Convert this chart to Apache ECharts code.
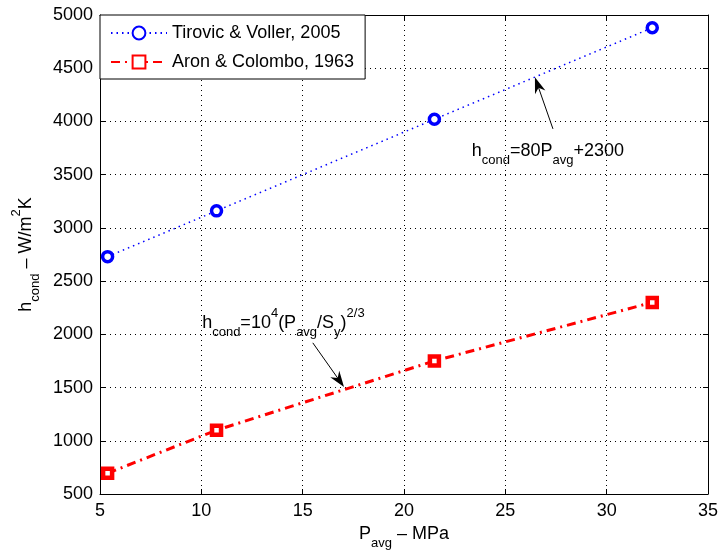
<!DOCTYPE html>
<html>

<head>
    <meta charset="utf-8" />
    <script src="https://cdn.jsdelivr.net/npm/echarts@6/dist/echarts.min.js"></script>
    <style>
        body { margin: 0; background: #fff; }
    </style>
</head>

<body>
    <div id="main" style="width: 720px;height: 555px;"></div>

    <script type="text/javascript">
        // pressure values, MPa
        var pAvg = [5.375, 10.75, 21.5, 32.25];
        // h_cond, W/m^2K
        var tirovic = [2730, 3160, 4020, 4880];
        var aron = [695, 1100, 1750, 2300];

        var xTicks = { min: 5, max: 35, interval: 5 };
        var yTicks = { min: 500, max: 5000, interval: 500 };

        // annotation arrows: [tailX, tailY, tipX, tipY] in data coords
        var arrows = [
            [27.35, 3930, 26.46, 4415],
            [15.5, 1920, 17.04, 1505]
        ];
        var blueLabel = [27.1, 3725];
        var redLabel = [14.05, 2110];

        var FONT = '"Liberation Sans", Arial, Helvetica, sans-serif';

        var richStyles = {
            m: { fontSize: 18, lineHeight: 32, fontFamily: FONT, color: '#000' },
            sub: { fontSize: 13, lineHeight: 13, verticalAlign: 'bottom', fontFamily: FONT, color: '#000' },
            sup: { fontSize: 13, lineHeight: 19, verticalAlign: 'top', fontFamily: FONT, color: '#000' }
        };

        var chartDom = document.getElementById('main');
        var myChart = echarts.init(chartDom);
        var option;

        function pairs(xs, ys) {
            return xs.map(function (x, i) { return [x, ys[i]]; });
        }

        function plain(v) { return String(v); }

        function note(text, at) {
            return {
                silent: true,
                symbol: 'circle',
                symbolSize: 0,
                label: { show: true, position: 'inside', formatter: text, rich: richStyles },
                data: [{ coord: at }]
            };
        }

        // line + notched arrow head, positioned through the axes
        function renderArrow(params, api) {
            var a = api.coord([api.value(0), api.value(1)]);
            var b = api.coord([api.value(2), api.value(3)]);
            var dx = b[0] - a[0], dy = b[1] - a[1];
            var len = Math.sqrt(dx * dx + dy * dy);
            var ux = dx / len, uy = dy / len;
            var nx = -uy, ny = ux;
            var L = 16, W = 5.5, N = 11;
            var head = [
                [b[0], b[1]],
                [b[0] - L * ux + W * nx, b[1] - L * uy + W * ny],
                [b[0] - N * ux, b[1] - N * uy],
                [b[0] - L * ux - W * nx, b[1] - L * uy - W * ny]
            ];
            return {
                type: 'group',
                children: [{
                    type: 'line',
                    shape: { x1: a[0], y1: a[1], x2: b[0] - N * ux, y2: b[1] - N * uy },
                    style: { stroke: '#000', lineWidth: 1 }
                }, {
                    type: 'polygon',
                    shape: { points: head },
                    style: { fill: '#000' }
                }]
            };
        }

        var gridLine = { show: true, lineStyle: { color: '#000', type: [1, 4], width: 1 } };
        var frameLine = { show: true, onZero: false, lineStyle: { color: '#000', width: 1 } };
        var tick = { inside: true, length: 5, lineStyle: { color: '#000' } };

        option = {
            animation: false,
            grid: { left: 100, right: 12, top: 15, bottom: 61, outerBoundsMode: 'none', containLabel: false },
            legend: {
                orient: 'vertical',
                left: 100,
                top: 15,
                backgroundColor: '#fff',
                borderColor: '#000',
                borderWidth: 1,
                borderRadius: 0,
                padding: [9, 11, 8, 10],
                itemWidth: 56,
                itemHeight: 16,
                itemGap: 11,
                textStyle: { fontSize: 18, fontFamily: FONT, color: '#000' },
                data: ['Tirovic & Voller, 2005', 'Aron & Colombo, 1963']
            },
            xAxis: [{
                type: 'value',
                min: xTicks.min, max: xTicks.max, interval: xTicks.interval,
                name: '{m|P}{sub|avg}{m| \u2013 MPa}',
                nameLocation: 'middle',
                nameGap: 24,
                nameTextStyle: { rich: richStyles },
                axisLine: frameLine,
                axisTick: tick,
                axisLabel: { fontSize: 18, fontFamily: FONT, color: '#000', margin: 8, formatter: plain },
                splitLine: gridLine
            }, {
                type: 'value', position: 'top',
                min: xTicks.min, max: xTicks.max, interval: xTicks.interval,
                axisLine: frameLine,
                axisTick: tick,
                axisLabel: { show: false },
                splitLine: { show: false }
            }],
            yAxis: [{
                type: 'value',
                min: yTicks.min, max: yTicks.max, interval: yTicks.interval,
                name: '{m|h}{sub|cond}{m| \u2013 W/m}{sup|2}{m|K}',
                nameLocation: 'middle',
                nameGap: 58,
                nameTextStyle: { rich: richStyles },
                axisLine: frameLine,
                axisTick: tick,
                axisLabel: { fontSize: 18, fontFamily: FONT, color: '#000', margin: 7, formatter: plain },
                splitLine: gridLine
            }, {
                type: 'value', position: 'right',
                min: yTicks.min, max: yTicks.max, interval: yTicks.interval,
                axisLine: frameLine,
                axisTick: tick,
                axisLabel: { show: false },
                splitLine: { show: false }
            }],
            series: [{
                name: 'Tirovic & Voller, 2005',
                type: 'line',
                data: pairs(pAvg, tirovic),
                symbol: 'circle',
                symbolSize: 10,
                lineStyle: { color: '#0000ff', width: 1.5, type: [1.5, 4] },
                itemStyle: { color: '#fff', borderColor: '#0000ff', borderWidth: 3.5 },
                markPoint: note('{m|h}{sub|cond}{m|=80P}{sub|avg}{m|+2300}', blueLabel)
            }, {
                name: 'Aron & Colombo, 1963',
                type: 'line',
                data: pairs(pAvg, aron),
                symbol: 'rect',
                symbolSize: 9,
                lineStyle: { color: '#ff0000', width: 3, type: [9, 5, 2, 5] },
                itemStyle: { color: '#fff', borderColor: '#ff0000', borderWidth: 4.5 },
                markPoint: note('{m|h}{sub|cond}{m|=10}{sup|4}{m|(P}{sub|avg}{m|/S}{sub|y}{m|)}{sup|2/3}', redLabel)
            }, {
                name: 'arrows',
                type: 'custom',
                silent: true,
                z: 5,
                renderItem: renderArrow,
                encode: { x: [0, 2], y: [1, 3] },
                data: arrows
            }]
        };

        option && myChart.setOption(option);
    </script>
</body>
</html>
